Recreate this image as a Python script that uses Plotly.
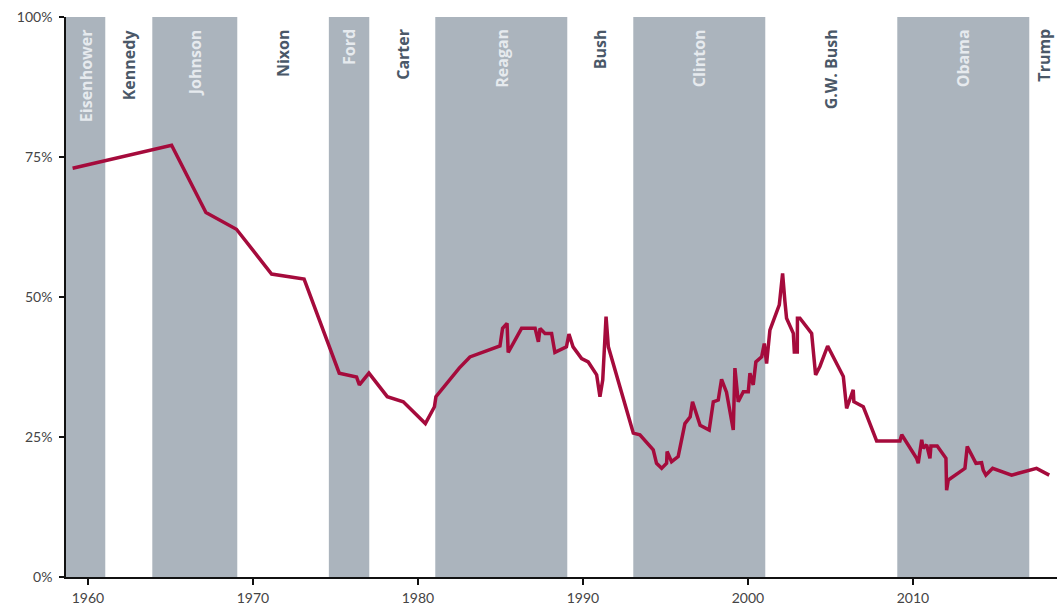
import plotly.graph_objects as go

# ---- data ----
years = [1959.07, 1965.07, 1967.15, 1969.0, 1971.13, 1973.1, 1975.23, 1976.28, 1976.45, 1976.69,
         1977.03, 1978.14, 1979.11, 1980.45, 1981.0, 1981.09, 1982.5, 1983.15, 1984.97, 1985.13,
         1985.4, 1985.47, 1986.28, 1987.1, 1987.3, 1987.4, 1987.7, 1988.1, 1988.3, 1989.0,
         1989.15, 1989.4, 1989.92, 1990.32, 1990.83, 1991.03, 1991.2, 1991.4, 1991.54, 1993.05,
         1993.45, 1994.26, 1994.46, 1994.77, 1995.07, 1995.1, 1995.37, 1995.77, 1996.18, 1996.5,
         1996.64, 1997.1, 1997.65, 1997.9, 1998.2, 1998.4, 1998.7, 1999.11, 1999.21, 1999.41,
         1999.72, 2000.02, 2000.12, 2000.32, 2000.48, 2000.83, 2000.99, 2001.13, 2001.33, 2001.9,
         2002.1, 2002.24, 2002.34, 2002.75, 2002.81, 2002.99, 2003.0, 2003.15, 2003.86, 2004.1,
         2004.36, 2004.83, 2005.78, 2005.98, 2006.38, 2006.42, 2006.99, 2007.19, 2007.8, 2009.21,
         2009.32, 2010.22, 2010.32, 2010.53, 2010.62, 2010.83, 2011.03, 2011.09, 2011.47, 2012.0,
         2012.04, 2012.14, 2013.15, 2013.29, 2013.82, 2014.16, 2014.26, 2014.42, 2014.83, 2015.98,
         2017.49, 2018.26]
values = [73.0, 77.1, 65.1, 62.1, 54.1, 53.2, 36.4, 35.7, 34.3, 35.2,
          36.4, 32.2, 31.3, 27.4, 30.4, 32.2, 37.3, 39.3, 41.25, 44.4,
          45.3, 40.1, 44.4, 44.4, 42.0, 44.4, 43.5, 43.5, 40.1, 41.1,
          43.4, 41.1, 39.0, 38.4, 36.1, 32.2, 35.2, 46.5, 41.1, 25.7,
          25.4, 22.7, 20.3, 19.4, 20.3, 22.4, 20.6, 21.5, 27.4, 28.6,
          31.3, 27.1, 26.25, 31.3, 31.6, 35.3, 33.0, 26.25, 37.3, 31.3,
          33.1, 33.1, 36.4, 34.3, 38.4, 39.3, 41.7, 38.1, 44.1, 48.6,
          54.2, 49.2, 46.2, 43.5, 40.2, 40.2, 46.2, 46.2, 43.5, 36.1,
          37.6, 41.25, 35.8, 30.1, 33.4, 31.3, 30.4, 28.9, 24.3, 24.3,
          25.4, 21.2, 20.3, 24.5, 23.0, 23.6, 21.2, 23.4, 23.4, 21.2,
          15.5, 17.3, 19.4, 23.3, 20.3, 20.4, 19.1, 18.2, 19.4, 18.2,
          19.4, 18.2]

presidents = ["Eisenhower", "Kennedy", "Johnson", "Nixon", "Ford", "Carter", "Reagan",
              "Bush", "Clinton", "G.W. Bush", "Obama", "Trump"]
term_starts = [1953.05, 1961.05, 1963.9, 1969.05, 1974.6, 1977.05, 1981.05,
               1989.05, 1993.05, 2001.05, 2009.05, 2017.05]
shaded = [True, False, True, False, True, False, True, False, True, False, True, False]

x_tick_vals = [1960, 1970, 1980, 1990, 2000, 2010]
x_tick_text = ["1960", "1970", "1980", "1990", "2000", "2010"]
y_tick_vals = [0, 25, 50, 75, 100]
y_tick_text = ["0%", "25%", "50%", "75%", "100%"]

X_MIN, X_MAX = 1958.67, 2018.73

BAND = "#abb4bd"
LINE = "#a50b3c"
DARK_LABEL = "#4a5868"
LIGHT_LABEL = "#e6eaee"

fig = go.Figure()

shapes = []
annotations = []
for i, name in enumerate(presidents):
    x0 = max(term_starts[i], X_MIN)
    x1 = term_starts[i + 1] if i + 1 < len(term_starts) else X_MAX
    if shaded[i]:
        shapes.append(dict(type="rect", xref="x", yref="y", x0=x0, x1=x1, y0=0, y1=100,
                           fillcolor=BAND, line=dict(width=0), layer="below"))
    annotations.append(dict(x=(x0 + x1) / 2, y=100, xref="x", yref="y", text=name,
                            showarrow=False, textangle=-90, yanchor="top", xanchor="center",
                            yshift=-10,
                            font=dict(family="Open Sans", size=16,
                                      color=LIGHT_LABEL if shaded[i] else DARK_LABEL,
                                      weight="bold")))

fig.add_trace(go.Scatter(x=years, y=values, mode="lines",
                         line=dict(color=LINE, width=3.5), hoverinfo="skip", showlegend=False))

fig.update_layout(
    width=1063, height=608,
    margin=dict(l=66, r=6, t=17, b=31),
    plot_bgcolor="white", paper_bgcolor="white",
    shapes=shapes, annotations=annotations,
    font=dict(family="Lato", size=14, color="#444444"),
    xaxis=dict(range=[X_MIN, X_MAX], tickvals=x_tick_vals, ticktext=x_tick_text,
               showgrid=False, zeroline=False, automargin=False,
               showline=True, linecolor="#111111", linewidth=1.5,
               ticks="outside", ticklen=6, tickcolor="#111111", tickwidth=1.5,
               ticklabelstandoff=1,
               tickfont=dict(family="Lato", size=14, color="#444444")),
    yaxis=dict(range=[0, 100], tickvals=y_tick_vals, ticktext=y_tick_text, showgrid=False,
               zeroline=False, showline=True, linecolor="#111111", linewidth=1.5,
               automargin=False,
               ticks="outside", ticklen=5, tickcolor="#111111", tickwidth=1.5,
               ticklabelstandoff=4,
               tickfont=dict(family="Lato", size=14, color="#444444")),
)

fig.write_html("out.html", config={"displayModeBar": False},
               post_script="document.body.style.margin='0';")
